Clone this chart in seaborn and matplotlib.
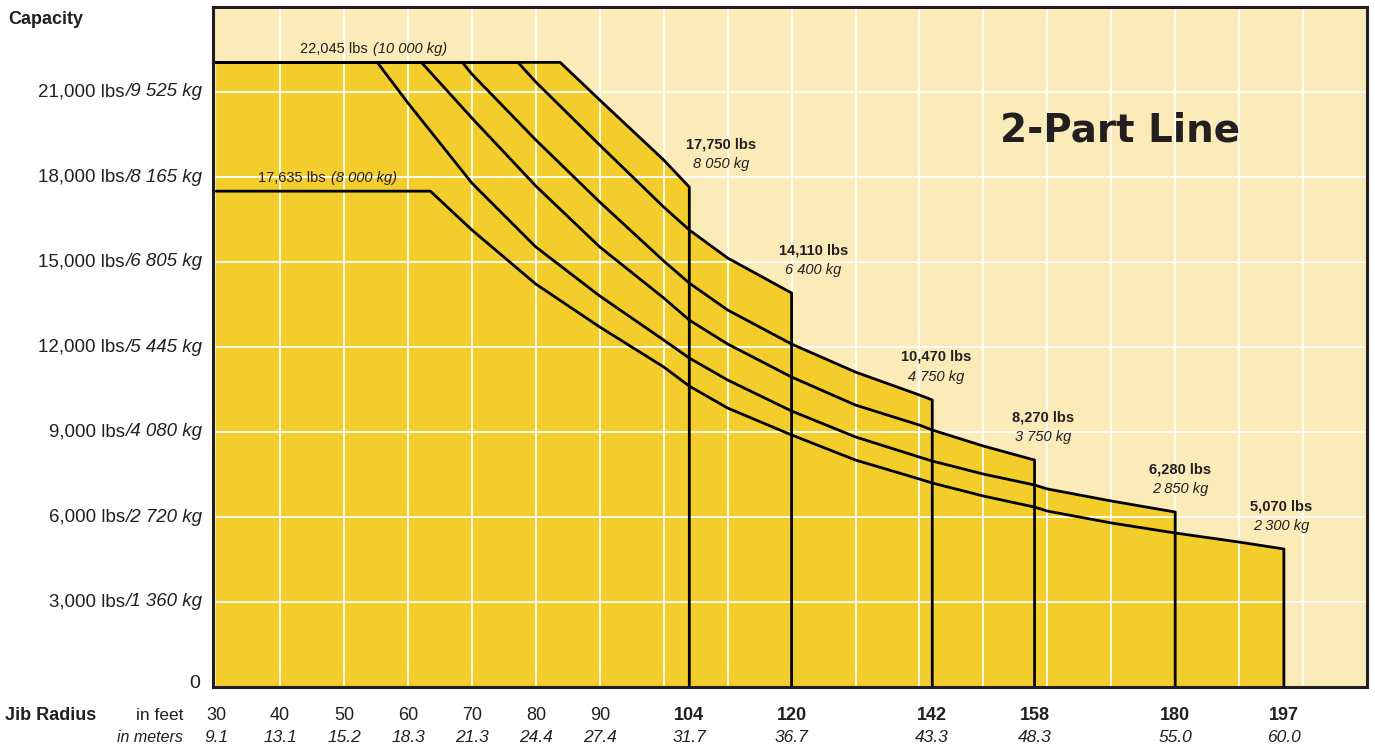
import pandas as pd
import matplotlib.pyplot as plt
import seaborn as sns

# ----------------------------------------------------------
# Data: load chart, 2-part line (radius in ft, capacity in lbs)
# ----------------------------------------------------------

jib_lengths = [104, 120, 142, 158, 180, 197]

r_104 = [30, 83.8, 90, 100, 104]
c_104 = [22045, 22045, 20715, 18600, 17645]

r_120 = [30, 77.2, 80, 90, 100, 104, 110, 120]
c_120 = [22045, 22045, 21350, 19125, 16940, 16130, 15140, 13905]

r_142 = [30, 68.5, 70, 80, 90, 100, 104, 110, 120, 130, 140, 142]
c_142 = [22045, 22045, 21630, 19305, 17115, 15035, 14255, 13305, 12105, 11115, 10305, 10130]

r_158 = [30, 62.1, 70, 80, 90, 100, 104, 110, 120, 130, 140, 142, 150, 158]
c_158 = [22045, 22045, 20080, 17680, 15530, 13730, 12950, 12105, 10940, 9950, 9245, 9070, 8505, 8010]

r_180 = [30, 55.2, 60, 70, 80, 90, 100, 104, 110, 120, 130, 140, 142, 150, 158, 160, 170, 180]
c_180 = [22045, 22045, 20610, 17785, 15530, 13800, 12245, 11610, 10835, 9740, 8825, 8115, 7975,
         7515, 7130, 6990, 6565, 6175]

r_197 = [30, 63.5, 70, 80, 90, 100, 104, 110, 120, 130, 140, 142, 150, 158, 160, 170, 180, 190, 197]
c_197 = [17500, 17500, 16130, 14220, 12705, 11295, 10620, 9845, 8895, 8010, 7340, 7200, 6740,
         6350, 6210, 5790, 5435, 5115, 4870]

end_lbs = ["17,750 lbs", "14,110 lbs", "10,470 lbs", "8,270 lbs", "6,280 lbs", "5,070 lbs"]
end_kg = ["8 050 kg", "6 400 kg", "4 750 kg", "3 750 kg", "2 850 kg", "2 300 kg"]

ft_ticks = [30, 40, 50, 60, 70, 80, 90, 104, 120, 142, 158, 180, 197]
m_labels = ["9.1", "13.1", "15.2", "18.3", "21.3", "24.4", "27.4",
            "31.7", "36.7", "43.3", "48.3", "55.0", "60.0"]

cap_ticks = [3000, 6000, 9000, 12000, 15000, 18000, 21000]
lbs_labels = ["3,000 lbs", "6,000 lbs", "9,000 lbs", "12,000 lbs",
              "15,000 lbs", "18,000 lbs", "21,000 lbs"]
kg_labels = ["1 360 kg", "2 720 kg", "4 080 kg", "5 445 kg",
             "6 805 kg", "8 165 kg", "9 525 kg"]

# ----------------------------------------------------------
# Style
# ----------------------------------------------------------

sns.set_style("white")
plt.rcParams["font.family"] = ["Liberation Sans", "DejaVu Sans"]

INK = "#231F20"
FILL = "#F2CD2B"
BG = "#FBEBB8"

fig = plt.figure(figsize=(13.75, 7.49), dpi=100)
ax = fig.add_axes([213 / 1375, 1 - 687 / 749, 1154 / 1375, 680 / 749])
ax.set_facecolor(BG)

curves = [(r_104, c_104), (r_120, c_120), (r_142, c_142),
          (r_158, c_158), (r_180, c_180), (r_197, c_197)]

for r, c in curves:
    ax.fill_between(r, c, 0, color=FILL, lw=0, zorder=1)

for r, c in curves:
    df = pd.DataFrame({"radius": r + [r[-1]], "capacity": c + [0]})
    sns.lineplot(data=df, x="radius", y="capacity", sort=False, estimator=None,
                 color="black", lw=2.0, zorder=3, ax=ax)

ax.set_xlim(29.5, 210)
ax.set_ylim(0, 24000)
ax.set_xticks(range(40, 201, 10))
ax.set_yticks(range(0, 24001, 3000))
ax.grid(True, color="white", lw=1.3)
ax.set_axisbelow(False)
ax.tick_params(length=0, labelbottom=False, labelleft=False)
ax.set_xlabel("")
ax.set_ylabel("")
for s in ax.spines.values():
    s.set_visible(True)
    s.set_color(INK)
    s.set_linewidth(2.2)
    s.set_zorder(5)

# ----------------------------------------------------------
# Axis labels (custom two-style texts)
# ----------------------------------------------------------

for v, lb, kg in zip(cap_ticks, lbs_labels, kg_labels):
    t_kg = ax.annotate("/" + kg, xy=(0, v), xycoords=("axes fraction", "data"),
                       xytext=(-11, 0), textcoords="offset pixels",
                       ha="right", va="center", fontsize=13.5, style="italic", color=INK)
    ax.annotate(lb, xy=(0, 0), xycoords=t_kg, ha="right", va="bottom",
                fontsize=13.5, color=INK)

ax.annotate("0", xy=(0, 0), xycoords=("axes fraction", "data"), xytext=(-13, 3),
            textcoords="offset pixels", ha="right", va="center", fontsize=14, color=INK)

for x, m in zip(ft_ticks, m_labels):
    w = "bold" if x > 90 else "normal"
    ax.annotate(str(x), xy=(x, 0), xycoords=("data", "axes fraction"), xytext=(0, -28),
                textcoords="offset pixels", ha="center", va="center",
                fontsize=13, fontweight=w, color=INK)
    ax.annotate(m, xy=(x, 0), xycoords=("data", "axes fraction"), xytext=(0, -50),
                textcoords="offset pixels", ha="center", va="center",
                fontsize=12.5, style="italic", color=INK)

fig.text(8 / 1375, 1 - 19 / 749, "Capacity", ha="left", va="center",
         fontsize=13, fontweight="bold", color=INK)
fig.text(5 / 1375, 1 - 715 / 749, "Jib Radius", ha="left", va="center",
         fontsize=13, fontweight="bold", color=INK)
fig.text(183 / 1375, 1 - 715 / 749, "in feet", ha="right", va="center",
         fontsize=12.5, color=INK)
fig.text(183 / 1375, 1 - 737 / 749, "in meters", ha="right", va="center",
         fontsize=11.5, style="italic", color=INK)

# ----------------------------------------------------------
# Curve annotations
# ----------------------------------------------------------

flat_labels = [(43.1, 22045, "22,045 lbs", "(10 000 kg)"),
               (36.6, 17500, "17,635 lbs", "(8 000 kg)")]
for x, y, lb, kg in flat_labels:
    t = ax.annotate(lb, xy=(x, y), xytext=(0, 9), textcoords="offset pixels",
                    ha="left", va="baseline", fontsize=10.5, color=INK)
    ax.annotate(kg, xy=(1, 0), xycoords=t, xytext=(5, 0), textcoords="offset pixels",
                ha="left", va="bottom", fontsize=10.5, style="italic", color=INK)

label_dx = [32, 22, 4, 9, 5, -3]
for (r, c), lb, kg, dx in zip(curves, end_lbs, end_kg, label_dx):
    ax.annotate(lb, xy=(r[-1], c[-1]), xytext=(dx, 39), textcoords="offset pixels",
                ha="center", va="baseline", fontsize=10.5, fontweight="bold", color=INK)
    ax.annotate(kg, xy=(r[-1], c[-1]), xytext=(dx, 19), textcoords="offset pixels",
                ha="center", va="baseline", fontsize=10.5, style="italic", color=INK)

ax.text(0.786, 0.818, "2-Part Line", transform=ax.transAxes, ha="center", va="center",
        fontsize=28, fontweight="bold", family="DejaVu Sans", color=INK)

fig.savefig("out.png", dpi=100)
